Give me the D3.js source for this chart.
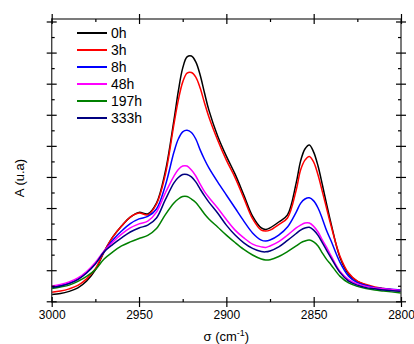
<!DOCTYPE html>
<html><head><meta charset="utf-8">
<script src="https://cdn.jsdelivr.net/npm/d3@7"></script>
<style>
body{margin:0;background:#fff}
svg{display:block}
text{font-family:"Liberation Sans",Arial,Helvetica,sans-serif}
</style>
</head><body>
<svg id="chart" width="414" height="344"></svg>
<script>
// ---- data ----
const wavenumbers = [3000,2995,2990,2985,2980,2975,2970,2965,2960,2955,2950,2945,2940,2935,2930,2927.5,2925,2922.5,2920,2917.5,2915,2912.5,2910,2905,2900,2895,2890,2885,2880,2877.5,2875,2870,2865,2860,2857.5,2855,2852.5,2850,2847.5,2845,2842.5,2840,2835,2830,2825,2820,2815,2810,2800];

const a0h   = [0.022,0.025,0.032,0.043,0.065,0.101,0.159,0.207,0.242,0.271,0.286,0.281,0.316,0.416,0.583,0.676,0.750,0.786,0.789,0.770,0.728,0.670,0.615,0.532,0.467,0.409,0.342,0.274,0.236,0.231,0.236,0.255,0.278,0.381,0.451,0.490,0.503,0.480,0.435,0.374,0.310,0.249,0.142,0.088,0.064,0.052,0.044,0.040,0.033];
const a3h   = [0.029,0.033,0.040,0.051,0.072,0.105,0.160,0.207,0.242,0.271,0.284,0.278,0.313,0.406,0.570,0.647,0.705,0.734,0.736,0.721,0.686,0.638,0.593,0.519,0.454,0.398,0.332,0.266,0.229,0.226,0.229,0.247,0.268,0.358,0.422,0.454,0.466,0.448,0.406,0.352,0.297,0.242,0.146,0.091,0.065,0.054,0.046,0.041,0.033];
const a8h   = [0.046,0.051,0.059,0.072,0.093,0.122,0.160,0.197,0.226,0.250,0.265,0.273,0.297,0.371,0.480,0.522,0.545,0.550,0.543,0.522,0.487,0.456,0.429,0.384,0.342,0.300,0.258,0.220,0.197,0.194,0.197,0.213,0.239,0.287,0.315,0.329,0.333,0.323,0.300,0.265,0.226,0.194,0.126,0.081,0.060,0.051,0.044,0.041,0.036];
const a48h  = [0.049,0.054,0.062,0.075,0.096,0.125,0.162,0.191,0.216,0.236,0.249,0.258,0.287,0.348,0.403,0.424,0.435,0.435,0.422,0.403,0.377,0.353,0.334,0.300,0.263,0.229,0.204,0.184,0.175,0.173,0.178,0.192,0.213,0.236,0.245,0.252,0.252,0.241,0.223,0.197,0.173,0.146,0.097,0.070,0.056,0.048,0.043,0.040,0.035];
const a197h = [0.041,0.046,0.052,0.064,0.080,0.102,0.136,0.159,0.178,0.191,0.202,0.212,0.234,0.278,0.316,0.329,0.337,0.337,0.329,0.318,0.300,0.281,0.265,0.239,0.213,0.189,0.167,0.149,0.136,0.133,0.134,0.144,0.160,0.178,0.188,0.194,0.197,0.191,0.178,0.155,0.134,0.117,0.081,0.059,0.048,0.041,0.036,0.033,0.027];
const a333h = [0.044,0.049,0.057,0.070,0.091,0.120,0.159,0.183,0.204,0.223,0.236,0.245,0.268,0.326,0.381,0.398,0.408,0.408,0.400,0.384,0.361,0.339,0.319,0.284,0.245,0.213,0.188,0.170,0.160,0.159,0.162,0.175,0.196,0.218,0.229,0.236,0.238,0.229,0.212,0.188,0.163,0.139,0.093,0.065,0.052,0.044,0.040,0.036,0.032];

const seriesNames  = ["0h","3h","8h","48h","197h","333h"];
const seriesValues = [a0h, a3h, a8h, a48h, a197h, a333h];
const seriesColors = ["#000000","#ff0000","#0000ff","#ff00ff","#008000","#000080"];

const xMajorTicks = [3000,2950,2900,2850,2800];
const xMinorTicks = [2975,2925,2875,2825];
const yMajorTicks = [0,0.1,0.2,0.3,0.4,0.5,0.6,0.7,0.8,0.9];
const yMinorTicks = [0.05,0.15,0.25,0.35,0.45,0.55,0.65,0.75,0.85];
const xTitle = "σ (cm";
const yTitle = "A (u.a)";

// ---- layout ----
const L = 51.7, R = 401, T = 19, B = 302;
const svg = d3.select("#chart");
const x = d3.scaleLinear().domain([3000, 2800]).range([L, R]);
const y = d3.scaleLinear().domain([0, 0.9]).range([301.3, 21.5]);

// curves
const line = d3.line().x(d => x(d[0])).y(d => y(d[1])).curve(d3.curveCatmullRom.alpha(0.5));
const plot = svg.append("g");
seriesValues.forEach((vals, i) => {
  plot.append("path")
    .datum(wavenumbers.map((w, k) => [w, vals[k]]))
    .attr("fill", "none")
    .attr("stroke", seriesColors[i])
    .attr("stroke-width", 1.5)
    .attr("d", line);
});

// frame
svg.append("rect").attr("x", L).attr("y", T).attr("width", R - L).attr("height", B - T)
  .attr("fill", "none").attr("stroke", "#444").attr("stroke-width", 1.4);

function styleAxis(g) {
  g.select(".domain").remove();
  g.selectAll(".tick line").attr("stroke", "#000").attr("stroke-width", 1.2);
}
// bottom axis
svg.append("g").attr("transform", `translate(0,${B})`)
  .call(d3.axisBottom(x).tickValues(xMajorTicks).tickSize(5).tickPadding(3).tickFormat(d3.format("d")))
  .call(styleAxis)
  .call(g => g.selectAll("text").attr("font-size", 12).attr("fill", "#000").attr("font-family", "Liberation Sans, Arial, sans-serif"));
svg.append("g").attr("transform", `translate(0,${B})`)
  .call(d3.axisBottom(x).tickValues(xMajorTicks).tickSize(-5).tickFormat("")).call(styleAxis);
svg.append("g").attr("transform", `translate(0,${B})`)
  .call(d3.axisBottom(x).tickValues(xMinorTicks).tickSize(-3).tickFormat("")).call(styleAxis);
// top axis
[5, -5].forEach(s => svg.append("g").attr("transform", `translate(0,${T})`)
  .call(d3.axisTop(x).tickValues(xMajorTicks).tickSize(s).tickFormat("")).call(styleAxis));
svg.append("g").attr("transform", `translate(0,${T})`)
  .call(d3.axisTop(x).tickValues(xMinorTicks).tickSize(-3).tickFormat("")).call(styleAxis);
// left axis
[5, -5].forEach(s => svg.append("g").attr("transform", `translate(${L},0)`)
  .call(d3.axisLeft(y).tickValues(yMajorTicks).tickSize(s).tickFormat("")).call(styleAxis));
svg.append("g").attr("transform", `translate(${L},0)`)
  .call(d3.axisLeft(y).tickValues(yMinorTicks).tickSize(-3).tickFormat("")).call(styleAxis);
// right axis
[5, -5].forEach(s => svg.append("g").attr("transform", `translate(${R},0)`)
  .call(d3.axisRight(y).tickValues(yMajorTicks).tickSize(s).tickFormat("")).call(styleAxis));
svg.append("g").attr("transform", `translate(${R},0)`)
  .call(d3.axisRight(y).tickValues(yMinorTicks).tickSize(-3).tickFormat("")).call(styleAxis);

// axis titles
const xt = svg.append("text").attr("x", (L + R) / 2).attr("y", 341).attr("text-anchor", "middle")
  .attr("font-size", 13).attr("fill", "#000");
xt.append("tspan").text(xTitle);
xt.append("tspan").attr("font-size", 9).attr("dy", -5).text("-1");
xt.append("tspan").attr("dy", 5).text(")");

svg.append("text").attr("transform", "translate(24,178) rotate(-90)").attr("text-anchor", "middle")
  .attr("font-size", 13).attr("fill", "#000").text(yTitle);

// legend
const lg = svg.append("g");
seriesNames.forEach((n, i) => {
  const cy = 33 + i * 17;
  lg.append("line").attr("x1", 77).attr("x2", 107).attr("y1", cy).attr("y2", cy)
    .attr("stroke", seriesColors[i]).attr("stroke-width", 2);
  lg.append("text").attr("x", 111).attr("y", cy + 5).attr("font-size", 14).attr("fill", "#000").text(n);
});
</script>
</body></html>
